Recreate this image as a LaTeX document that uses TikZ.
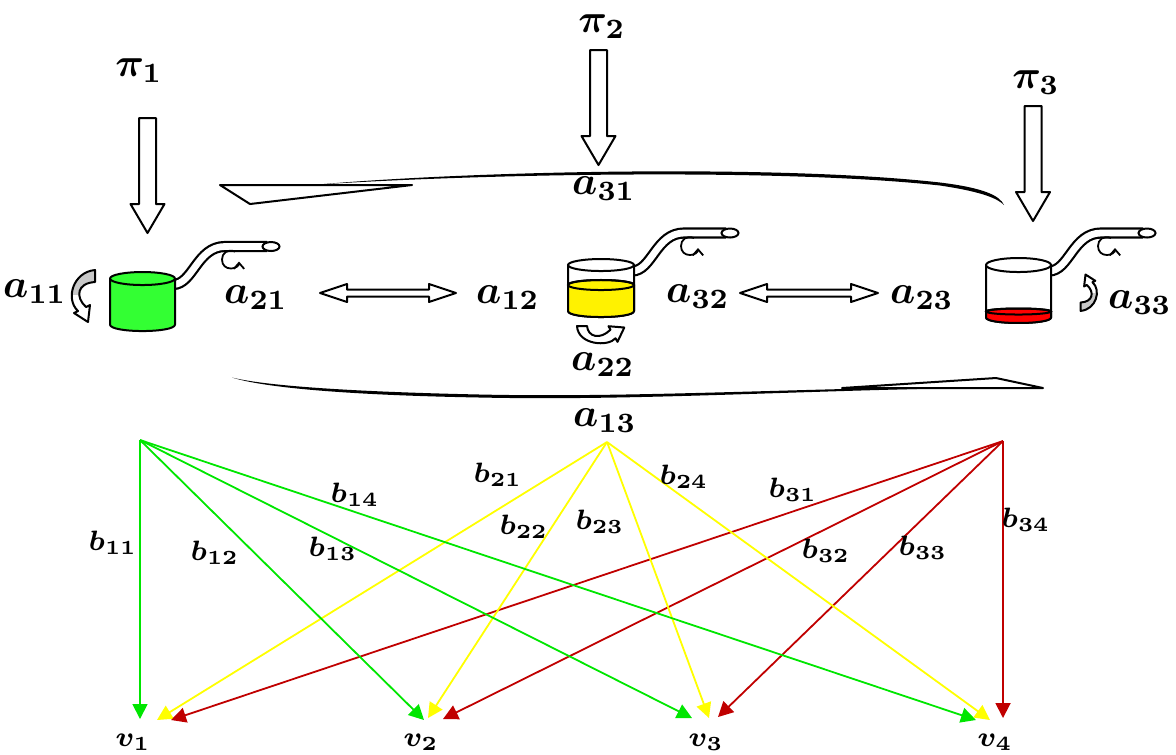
\documentclass[tikz,border=0pt]{standalone}
\usetikzlibrary{arrows.meta}

\definecolor{lgreen}{RGB}{0,230,0}
\definecolor{lyellow}{RGB}{255,255,0}
\definecolor{dred}{RGB}{192,0,0}
\definecolor{potgreen}{RGB}{51,255,51}
\definecolor{twgray}{RGB}{200,200,200}

% twisted self-transition arrow, drawn round its own centre
\newcommand{\twistpath}{(12,-27) .. controls (-10,-25) and (-18,2) .. (-5,14) -- (-9,16) -- (5,25) -- (7,8) -- (3,10) .. controls (-8,0) and (-6,-14) .. (12,-15) -- cycle}
\newcommand{\twistarrow}{%
  \fill[white] \twistpath;
  \begin{scope}
    \clip \twistpath;
    \fill[twgray] (-30,-40) rectangle (30,-2);
  \end{scope}
  \draw[line width=0.5pt, line join=round] \twistpath;}

% handle of a pot, origin at the right rim
\newcommand{\pothandle}{%
  \draw[line width=0.55pt, double=white, double distance=1.7pt] (-2,6) .. controls (18,6) and (22,-32) .. (50,-32) -- (92,-32);
  \draw[line width=0.5pt, fill=white] (96,-32) ellipse [x radius=8.5, y radius=4.5];
  \draw[line width=0.45pt, -{Straight Barb[length=1.5pt,width=2.6pt]}] (60,-27) .. controls (52,-30) and (47,-25) .. (47,-19)
    .. controls (47,-13) and (51,-10) .. (56,-10) .. controls (61,-10) and (64,-13) .. (64,-17);}

\begin{document}
\begin{tikzpicture}[x=0.25pt,y=-0.25pt,
    lbl/.style={inner sep=0pt, font=\boldmath\fontsize{10}{12}\selectfont},
    wlbl/.style={inner sep=0pt, font=\boldmath\fontsize{7}{8.5}\selectfont},
    blk/.style={draw, line width=0.5pt, line join=round, fill=white},
    emis/.style={line width=0.45pt, -{Triangle[length=3.75pt,width=3.75pt]}}]

  \useasboundingbox (0,0) rectangle (1176,754);

  % initial probabilities
  \node[lbl] (pi1) at (139,71) {$\pi_1$};
  \node[lbl] (pi2) at (602,27) {$\pi_2$};
  \node[lbl] (pi3) at (1036,83) {$\pi_3$};

  \foreach \cx/\yt in {147.5/118, 598.5/50, 1033/106}
    \draw[blk] (\cx-8.5,\yt) -- (\cx+8.5,\yt) -- (\cx+8.5,\yt+86) -- (\cx+17,\yt+86) -- (\cx,\yt+115)
      -- (\cx-17,\yt+86) -- (\cx-8.5,\yt+86) -- cycle;

  % transition labels
  \node[lbl] (a11) at (35,292) {$a_{11}$};
  \node[lbl] (a21) at (256,298) {$a_{21}$};
  \node[lbl] (a12) at (508,298) {$a_{12}$};
  \node[lbl] (a32) at (698,297) {$a_{32}$};
  \node[lbl] (a23) at (922,298) {$a_{23}$};
  \node[lbl] (a33) at (1140,303) {$a_{33}$};
  \node[lbl] (a31) at (604,189) {$a_{31}$};
  \node[lbl] (a22) at (603,365) {$a_{22}$};
  \node[lbl] (a13) at (605,421) {$a_{13}$};

  % long arrow 3 -> 1
  \fill (318,184.5) .. controls (480,170.5) and (780,164.5) .. (940,182.5) .. controls (985,188) and (1000,196) .. (1004,205)
    .. controls (998,199) and (984,192) .. (940,185.5) .. controls (780,168) and (480,174) .. (318,184.5) -- cycle;
  \draw[blk] (412,185) -- (220,185) -- (250,204) -- cycle;

  % long arrow 1 -> 3
  \fill (937,387) .. controls (760,390) and (620,397.5) .. (480,394.5) .. controls (340,391.5) and (262,385) .. (232,377.5)
    .. controls (262,387) and (340,395) .. (480,397.5) .. controls (620,400.5) and (760,392.5) .. (937,388.5) -- cycle;
  \draw[blk] (842,388) -- (996,378) -- (1043,388) -- cycle;

  % two-way arrows
  \foreach \xa/\xb in {320/456, 740/878}
    \draw[blk] (\xa,293) -- (\xa+27,284) -- (\xa+27,289.5) -- (\xb-27,289.5) -- (\xb-27,284) -- (\xb,293)
      -- (\xb-27,302) -- (\xb-27,296.5) -- (\xa+27,296.5) -- (\xa+27,302) -- cycle;

  % self transitions
  \begin{scope}[shift={(83,297)}]
    \twistarrow
  \end{scope}
  \begin{scope}[shift={(1089,292)}, rotate=180, scale=0.7]
    \twistarrow
  \end{scope}
  \draw[blk] (577,326) -- (587,326) .. controls (588,337) and (600,340) .. (610.5,329.7) -- (608.5,326.2) -- (624.3,327.5)
    -- (617.5,341.8) -- (615.5,338.3) .. controls (608,347) and (578,345) .. (577,326) -- cycle;

  % pot 1
  \begin{scope}[shift={(175,278.5)}]
    \pothandle
  \end{scope}
  \draw[blk, fill=potgreen] (110,278.5) -- (110,324.5) .. controls (110,333.2) and (175,333.2) .. (175,324.5) -- (175,278.5) -- cycle;
  \draw[blk, fill=potgreen] (142.5,278.5) ellipse [x radius=32.5, y radius=6.5];

  % pot 2
  \begin{scope}[shift={(634,265)}]
    \pothandle
  \end{scope}
  \draw[blk] (568,265) -- (568,311) .. controls (568,319) and (634,319) .. (634,311) -- (634,265) -- cycle;
  \draw[line width=0.5pt, fill=yellow] (568,285) -- (568,311) .. controls (568,319) and (634,319) .. (634,311) -- (634,285)
    .. controls (634,278.3) and (568,278.3) .. (568,285) -- cycle;
  \draw[line width=0.5pt] (601,285) ellipse [x radius=33, y radius=5];
  \draw[blk] (601,265) ellipse [x radius=33, y radius=6];

  % pot 3
  \begin{scope}[shift={(1051,265)}]
    \pothandle
  \end{scope}
  \draw[blk] (986,265) -- (986,317.5) .. controls (986,324.8) and (1051,324.8) .. (1051,317.5) -- (1051,265) -- cycle;
  \draw[line width=0.5pt, fill=red] (986,311.5) -- (986,317.5) .. controls (986,324.8) and (1051,324.8) .. (1051,317.5) -- (1051,311.5)
    .. controls (1051,307.5) and (986,307.5) .. (986,311.5) -- cycle;
  \draw[line width=0.5pt] (1018.5,311.5) ellipse [x radius=32.5, y radius=3];
  \draw[blk] (1018.5,265) ellipse [x radius=32.5, y radius=7];

  % emissions
  \coordinate (s1) at (140,440);
  \coordinate (s2) at (607,442);
  \coordinate (s3) at (1003,441);

  \coordinate (t11) at (140,719);
  \coordinate (t12) at (424,720);
  \coordinate (t13) at (692,718);
  \coordinate (t14) at (976,720);
  \coordinate (t21) at (157,720);
  \coordinate (t22) at (428,718);
  \coordinate (t23) at (709,718);
  \coordinate (t24) at (990,720);
  \coordinate (t31) at (171,720);
  \coordinate (t32) at (443,719);
  \coordinate (t33) at (718,717);
  \coordinate (t34) at (1003,718);

  \foreach \j in {1,...,4} {
    \draw[emis, lgreen] (s1) -- (t1\j);
    \draw[emis, lyellow] (s2) -- (t2\j);
    \draw[emis, dred] (s3) -- (t3\j);
  }

  \node[wlbl] (b11) at (113,543) {$b_{11}$};
  \node[wlbl] (b12) at (215,553) {$b_{12}$};
  \node[wlbl] (b13) at (333,549) {$b_{13}$};
  \node[wlbl] (b14) at (355,495) {$b_{14}$};
  \node[wlbl] (b21) at (498,475) {$b_{21}$};
  \node[wlbl] (b22) at (524,527) {$b_{22}$};
  \node[wlbl] (b23) at (600,522) {$b_{23}$};
  \node[wlbl] (b24) at (684,477) {$b_{24}$};
  \node[wlbl] (b31) at (793,490) {$b_{31}$};
  \node[wlbl] (b32) at (826,551) {$b_{32}$};
  \node[wlbl] (b33) at (923,548) {$b_{33}$};
  \node[wlbl] (b34) at (1026,520) {$b_{34}$};

  \node[wlbl] (v1) at (133,742) {$v_1$};
  \node[wlbl] (v2) at (421,742) {$v_2$};
  \node[wlbl] (v3) at (706,742) {$v_3$};
  \node[wlbl] (v4) at (995,742) {$v_4$};

\end{tikzpicture}
\end{document}
